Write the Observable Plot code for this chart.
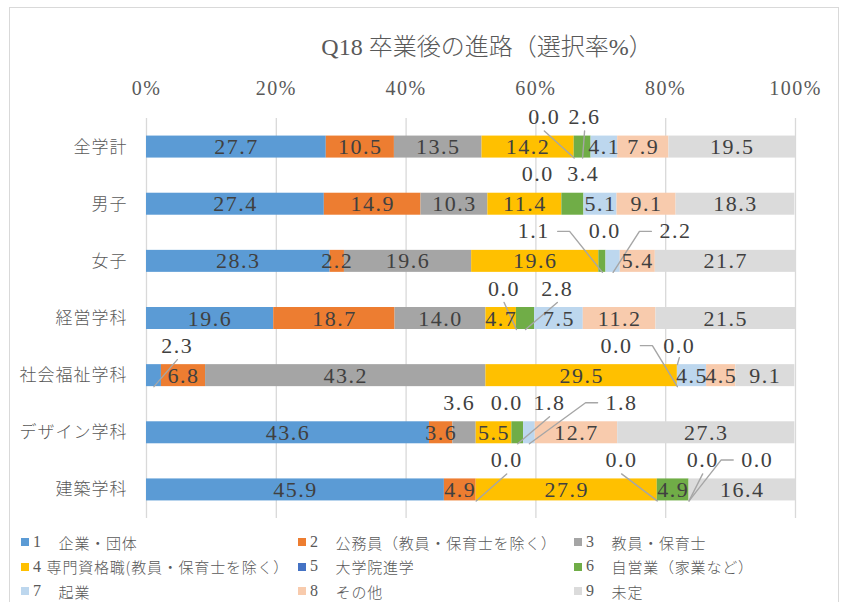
<!DOCTYPE html>
<html lang="ja"><head><meta charset="utf-8">
<script src="https://cdn.jsdelivr.net/npm/d3@7"></script>
<script src="https://cdn.jsdelivr.net/npm/@observablehq/plot@0.6"></script>
<style>
body{margin:0;background:#fff;width:851px;height:602px;overflow:hidden;position:relative;}
#frame{position:absolute;left:9px;top:7px;width:830px;height:600px;border:1px solid #d9d9d9;box-sizing:border-box;}
#title{position:absolute;top:33px;left:487px;transform:translateX(-50%);white-space:nowrap;font-size:24px;font-family:'Liberation Serif','DejaVu Serif','Noto Sans CJK JP',serif;color:#595959;line-height:1;}
#title .jp{font-family:'Noto Sans CJK JP',sans-serif;font-weight:300;}
#chart{position:absolute;left:0;top:62px;}
#chart svg text{letter-spacing:1.5px;}
#chart svg g[aria-label="y-axis tick label"] text{letter-spacing:1px;}
#legend{position:absolute;left:21px;top:530px;display:grid;grid-template-columns:277px 276px 250px;grid-auto-rows:24.5px;font-size:15px;color:#595959;letter-spacing:0.8px;}
#legend .item{display:flex;align-items:center;white-space:pre;}
#legend .sw{width:8px;height:8px;margin-right:4px;flex:none;}
#legend .num{font-family:'Liberation Serif','DejaVu Serif',serif;font-size:16px;white-space:pre;}
#legend .jp{font-family:'Noto Sans CJK JP',sans-serif;font-weight:300;white-space:pre;}
</style>
</head><body>
<div id="frame"></div>
<div id="title">Q18 <span class="jp">卒業後の進路（選択率</span>%<span class="jp">）</span></div>
<div id="chart"></div>
<div id="legend"></div>
<script>
// Categories (rows, top to bottom)
const rows = ["全学計","男子","女子","経営学科","社会福祉学科","デザイン学科","建築学科"];
// Series names (legend)
const seriesNames = ["1　企業・団体","2　公務員（教員・保育士を除く）","3　教員・保育士","4 専門資格職(教員・保育士を除く）","5　大学院進学","6　自営業（家業など）","7　起業","8　その他","9　未定"];
const seriesColors = ["#5B9BD5","#ED7D31","#A5A5A5","#FFC000","#4472C4","#70AD47","#BDD7EE","#F8CBAD","#DBDBDB"];
// Values (%) per series, in row order
const s1 = [27.7, 27.4, 28.3, 19.6, 2.3, 43.6, 45.9];
const s2 = [10.5, 14.9, 2.2, 18.7, 6.8, 3.6, 4.9];
const s3 = [13.5, 10.3, 19.6, 14.0, 43.2, 3.6, 0.0];
const s4 = [14.2, 11.4, 19.6, 4.7, 29.5, 5.5, 27.9];
const s5 = [0.0, 0.0, 0.0, 0.0, 0.0, 0.0, 0.0];
const s6 = [2.6, 3.4, 1.1, 2.8, 0.0, 1.8, 4.9];
const s7 = [4.1, 5.1, 2.2, 7.5, 4.5, 1.8, 0.0];
const s8 = [7.9, 9.1, 5.4, 11.2, 4.5, 12.7, 0.0];
const s9 = [19.5, 18.3, 21.7, 21.5, 9.1, 27.3, 16.4];
const xTicks = [0, 20, 40, 60, 80, 100];

// Annotation layout for labels drawn outside the bars: [row, series, label offset (%), leader style]
const callouts = [
  [0,4,-4.6,"down"],[0,5,0.3,"down"],
  [1,4,-3.7,"none"],[1,5,1.6,"none"],
  [2,5,-10.6,"side"],[2,4,0.9,"none"],[2,6,9.6,"side"],
  [3,4,-1.9,"down"],[3,5,4.9,"down"],
  [4,0,3.6,"down"],[4,4,-9.4,"side"],[4,5,0.3,"top"],
  [5,2,-0.8,"none"],[5,4,-0.8,"none"],[5,5,4.9,"down"],[5,6,14.2,"side"],
  [6,2,4.7,"down"],[6,4,-5.5,"down"],[6,6,2.1,"down"],[6,7,10.5,"side"]
];

// ---- build table ----
const allSeries = [s1,s2,s3,s4,s5,s6,s7,s8,s9];
const W = 851, H = 466, mT = 56, mB = 10, mL = 146, mR = 56;
const ux = 100 / (W - mL - mR);          // % per px
const uy = rows.length / (H - mT - mB);  // row units per px
const half = 11 * uy;                    // half bar height

const segs = [];
rows.forEach((r, i) => {
  let acc = 0;
  allSeries.forEach((s, k) => {
    const v = s[i];
    segs.push({row: i, k, v, x1: acc, x2: acc + v, mid: acc + v / 2, color: seriesColors[k]});
    acc += v;
  });
});
const segAt = (i, k) => segs.find(d => d.row === i && d.k === k);
const isCallout = (i, k) => callouts.some(c => c[0] === i && c[1] === k);
const inner = segs.filter(d => d.v > 0 && !isCallout(d.row, d.k));

const labelDy = 30 * uy;
const outLabels = callouts.map(([i, k, dx, style]) => {
  const s = segAt(i, k);
  return {i, k, style, sx: s.mid, lx: s.mid + dx, ly: i - labelDy, text: s.v.toFixed(1)};
});
const leaders = [];
outLabels.forEach((c, n) => {
  if (c.style === "down") {
    leaders.push({id: n, x: c.lx, y: c.ly + 14 * uy}, {id: n, x: c.sx, y: c.i + half});
  } else if (c.style === "top") {
    leaders.push({id: n, x: c.lx, y: c.ly + 12 * uy}, {id: n, x: c.sx, y: c.i - half});
  } else if (c.style === "side") {
    const dir = Math.sign(c.sx - c.lx);
    leaders.push({id: n, x: c.lx + dir * 24 * ux, y: c.ly},
                 {id: n, x: c.lx + dir * 36 * ux, y: c.ly},
                 {id: n, x: c.sx, y: c.i + half});
  }
});

const serif = "'Liberation Serif','DejaVu Serif',serif";
const plot = Plot.plot({
  width: W, height: H,
  marginTop: mT, marginBottom: mB, marginLeft: mL, marginRight: mR,
  style: {fontFamily: serif, color: "#595959", background: "transparent"},
  x: {domain: [0, 100]},
  y: {domain: [-0.5, rows.length - 0.5], reverse: true},
  marks: [
    Plot.gridX(xTicks, {stroke: "#d9d9d9", strokeOpacity: 1, strokeWidth: 1.3}),
    Plot.axisX({anchor: "top", ticks: xTicks, tickFormat: d => d + "%", tickSize: 0, tickPadding: 24, fontSize: 20, label: null, fill: "#595959", fontFamily: serif}),
    Plot.axisY({ticks: d3.range(rows.length), tickFormat: i => rows[i], tickSize: 0, tickPadding: 19, fontSize: 17, label: null, fill: "#595959", fontFamily: "'Noto Sans CJK JP',sans-serif", fontWeight: 300}),
    Plot.rectX(segs.filter(d => d.v > 0), {x1: "x1", x2: "x2", y1: d => d.row - half, y2: d => d.row + half, fill: "color"}),
    Plot.line(leaders, {x: "x", y: "y", z: "id", stroke: "#a6a6a6", strokeWidth: 1.4}),
    Plot.text(inner, {x: "mid", y: "row", text: d => d.v.toFixed(1), fontSize: 22, fill: "#404040", fontFamily: serif}),
    Plot.text(outLabels, {x: "lx", y: "ly", text: "text", fontSize: 22, fill: "#404040", fontFamily: serif})
  ]
});
document.getElementById("chart").appendChild(plot);

// ---- legend ----
const legend = document.getElementById("legend");
seriesNames.forEach((name, k) => {
  const item = document.createElement("div");
  item.className = "item";
  const sw = document.createElement("span");
  sw.className = "sw";
  sw.style.background = seriesColors[k];
  const num = document.createElement("span");
  num.className = "num";
  const m = name.match(/^(\d\s?)(.*)$/);
  num.textContent = m[1];
  const t = document.createElement("span");
  t.className = "jp";
  t.textContent = m[2];
  item.appendChild(sw); item.appendChild(num); item.appendChild(t);
  legend.appendChild(item);
});
</script>
</body></html>
